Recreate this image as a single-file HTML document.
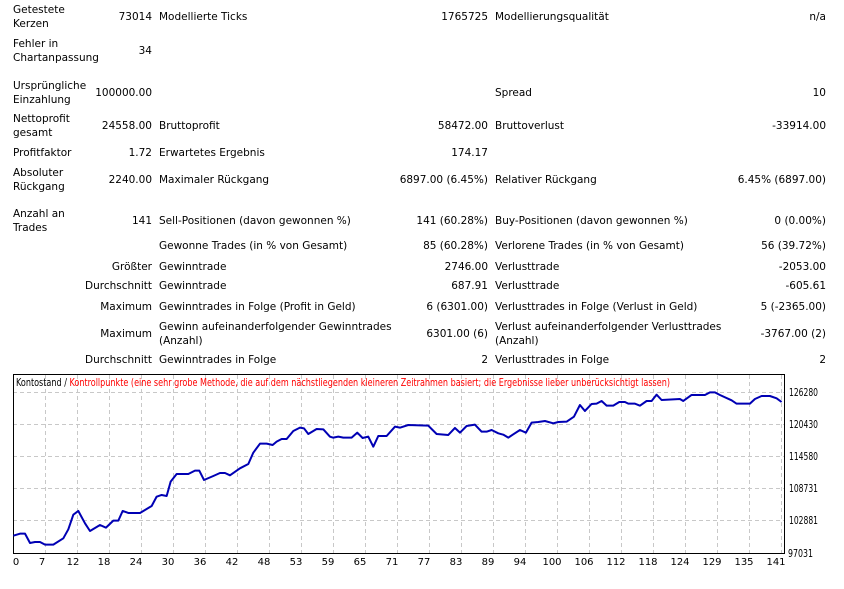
<!DOCTYPE html>
<html><head><meta charset="utf-8"><style>
body{margin:0;width:844px;height:589px;background:#fff;position:relative;overflow:hidden;font-family:"DejaVu Sans","Liberation Sans",sans-serif;font-size:10.5px;color:#000}
.t{position:absolute;line-height:14px;white-space:nowrap}
.l1{left:13px}.r1{right:692px;text-align:right}.l2{left:159px}.r2{right:356px;text-align:right}.l3{left:495px}.r3{right:18px;text-align:right}
</style></head><body>
<div class="t l1" style="top:3px">Getestete<br>Kerzen</div><div class="t r1" style="top:10px">73014</div>
<div class="t l2" style="top:10px">Modellierte Ticks</div><div class="t r2" style="top:10px">1765725</div>
<div class="t l3" style="top:10px">Modellierungsqualität</div><div class="t r3" style="top:10px">n/a</div>
<div class="t l1" style="top:37px">Fehler in<br>Chartanpassung</div><div class="t r1" style="top:44px">34</div>
<div class="t l1" style="top:79px">Ursprüngliche<br>Einzahlung</div><div class="t r1" style="top:86px">100000.00</div>
<div class="t l3" style="top:86px">Spread</div><div class="t r3" style="top:86px">10</div>
<div class="t l1" style="top:112px">Nettoprofit<br>gesamt</div><div class="t r1" style="top:119px">24558.00</div>
<div class="t l2" style="top:119px">Bruttoprofit</div><div class="t r2" style="top:119px">58472.00</div>
<div class="t l3" style="top:119px">Bruttoverlust</div><div class="t r3" style="top:119px">-33914.00</div>
<div class="t l1" style="top:146px">Profitfaktor</div><div class="t r1" style="top:146px">1.72</div>
<div class="t l2" style="top:146px">Erwartetes Ergebnis</div><div class="t r2" style="top:146px">174.17</div>
<div class="t l1" style="top:166px">Absoluter<br>Rückgang</div><div class="t r1" style="top:173px">2240.00</div>
<div class="t l2" style="top:173px">Maximaler Rückgang</div><div class="t r2" style="top:173px">6897.00 (6.45%)</div>
<div class="t l3" style="top:173px">Relativer Rückgang</div><div class="t r3" style="top:173px">6.45% (6897.00)</div>
<div class="t l1" style="top:207px">Anzahl an<br>Trades</div><div class="t r1" style="top:214px">141</div>
<div class="t l2" style="top:214px">Sell-Positionen (davon gewonnen %)</div><div class="t r2" style="top:214px">141 (60.28%)</div>
<div class="t l3" style="top:214px">Buy-Positionen (davon gewonnen %)</div><div class="t r3" style="top:214px">0 (0.00%)</div>
<div class="t l2" style="top:239px">Gewonne Trades (in % von Gesamt)</div><div class="t r2" style="top:239px">85 (60.28%)</div>
<div class="t l3" style="top:239px">Verlorene Trades (in % von Gesamt)</div><div class="t r3" style="top:239px">56 (39.72%)</div>
<div class="t r1" style="top:260px">Größter</div>
<div class="t l2" style="top:260px">Gewinntrade</div><div class="t r2" style="top:260px">2746.00</div>
<div class="t l3" style="top:260px">Verlusttrade</div><div class="t r3" style="top:260px">-2053.00</div>
<div class="t r1" style="top:279px">Durchschnitt</div>
<div class="t l2" style="top:279px">Gewinntrade</div><div class="t r2" style="top:279px">687.91</div>
<div class="t l3" style="top:279px">Verlusttrade</div><div class="t r3" style="top:279px">-605.61</div>
<div class="t r1" style="top:300px">Maximum</div>
<div class="t l2" style="top:300px">Gewinntrades in Folge (Profit in Geld)</div><div class="t r2" style="top:300px">6 (6301.00)</div>
<div class="t l3" style="top:300px">Verlusttrades in Folge (Verlust in Geld)</div><div class="t r3" style="top:300px">5 (-2365.00)</div>
<div class="t r1" style="top:327px">Maximum</div>
<div class="t l2" style="top:320px">Gewinn aufeinanderfolgender Gewinntrades<br>(Anzahl)</div><div class="t r2" style="top:327px">6301.00 (6)</div>
<div class="t l3" style="top:320px">Verlust aufeinanderfolgender Verlusttrades<br>(Anzahl)</div><div class="t r3" style="top:327px">-3767.00 (2)</div>
<div class="t r1" style="top:353px">Durchschnitt</div>
<div class="t l2" style="top:353px">Gewinntrades in Folge</div><div class="t r2" style="top:353px">2</div>
<div class="t l3" style="top:353px">Verlusttrades in Folge</div><div class="t r3" style="top:353px">2</div>

<svg style="position:absolute;left:0;top:0" width="844" height="589" viewBox="0 0 844 589">
<g stroke="#c8c8c8" stroke-dasharray="4,3" stroke-width="1">
<line x1="13" x2="784" y1="392.5" y2="392.5"/><line x1="13" x2="784" y1="424.5" y2="424.5"/><line x1="13" x2="784" y1="456.5" y2="456.5"/><line x1="13" x2="784" y1="488.5" y2="488.5"/><line x1="13" x2="784" y1="520.5" y2="520.5"/>
<line x1="45.5" x2="45.5" y1="375" y2="553"/><line x1="77.5" x2="77.5" y1="375" y2="553"/><line x1="109.5" x2="109.5" y1="375" y2="553"/><line x1="141.5" x2="141.5" y1="375" y2="553"/><line x1="173.5" x2="173.5" y1="375" y2="553"/><line x1="205.5" x2="205.5" y1="375" y2="553"/><line x1="237.5" x2="237.5" y1="375" y2="553"/><line x1="269.5" x2="269.5" y1="375" y2="553"/><line x1="301.5" x2="301.5" y1="375" y2="553"/><line x1="333.5" x2="333.5" y1="375" y2="553"/><line x1="365.5" x2="365.5" y1="375" y2="553"/><line x1="397.5" x2="397.5" y1="375" y2="553"/><line x1="429.5" x2="429.5" y1="375" y2="553"/><line x1="461.5" x2="461.5" y1="375" y2="553"/><line x1="493.5" x2="493.5" y1="375" y2="553"/><line x1="525.5" x2="525.5" y1="375" y2="553"/><line x1="557.5" x2="557.5" y1="375" y2="553"/><line x1="589.5" x2="589.5" y1="375" y2="553"/><line x1="621.5" x2="621.5" y1="375" y2="553"/><line x1="653.5" x2="653.5" y1="375" y2="553"/><line x1="685.5" x2="685.5" y1="375" y2="553"/><line x1="717.5" x2="717.5" y1="375" y2="553"/><line x1="749.5" x2="749.5" y1="375" y2="553"/><line x1="781.5" x2="781.5" y1="375" y2="553"/>
</g>
<rect x="13.5" y="374.5" width="771" height="179" fill="none" stroke="#000"/>
<g transform="translate(0,370) scale(0.3333)" fill="none" stroke="#0000b4" stroke-width="6" stroke-linejoin="round">
<polyline points="40,497 60,491 75,491 90,519 105,516 120,516 135,524 160,524 190,505 205,478 220,434 235,423 255,460 270,483 300,465 318,473 340,452 355,452 368,423 385,429 420,429 455,408 470,380 485,375 500,378 512,335 530,312 565,312 585,302 598,302 612,330 640,318 660,309 675,309 690,316 720,295 745,282 760,248 780,221 800,221 818,225 830,215 845,207 860,207 880,183 900,173 912,175 925,192 950,177 970,178 990,200 1000,203 1015,200 1030,203 1055,203 1072,188 1088,204 1105,200 1120,230 1135,198 1160,198 1185,170 1200,173 1225,165 1260,166 1285,167 1310,192 1345,195 1365,174 1380,188 1400,168 1425,164 1445,185 1460,185 1475,180 1495,190 1510,194 1525,203 1540,193 1560,180 1578,188 1595,158 1615,156 1635,153 1660,160 1675,156 1700,155 1722,140 1740,105 1755,123 1775,102 1790,101 1805,93 1820,107 1840,107 1858,96 1875,96 1885,101 1905,101 1920,107 1940,93 1955,93 1970,74 1985,90 2040,87 2050,93 2075,75 2115,75 2130,67 2145,67 2160,75 2195,91 2210,101 2250,101 2265,87 2285,78 2310,78 2330,85 2345,96"/>
</g>
<g font-family="DejaVu Sans, Liberation Sans, sans-serif" font-size="10.5">
<text x="16" y="386" textLength="654" lengthAdjust="spacingAndGlyphs">Kontostand / <tspan fill="#f00">Kontrollpunkte (eine sehr grobe Methode, die auf dem nächstliegenden kleineren Zeitrahmen basiert; die Ergebnisse lieber unberücksichtigt lassen)</tspan></text>
<g text-anchor="start">
<text x="789" y="396" textLength="29" lengthAdjust="spacingAndGlyphs">126280</text><text x="789" y="428" textLength="29" lengthAdjust="spacingAndGlyphs">120430</text><text x="789" y="460" textLength="29" lengthAdjust="spacingAndGlyphs">114580</text><text x="789" y="492" textLength="29" lengthAdjust="spacingAndGlyphs">108731</text><text x="789" y="524" textLength="29" lengthAdjust="spacingAndGlyphs">102881</text><text x="788" y="557" textLength="25" lengthAdjust="spacingAndGlyphs">97031</text>
</g>
<g text-anchor="middle" font-size="10">
<text x="16" y="565">0</text><text x="42" y="565">7</text><text x="73" y="565">12</text><text x="104" y="565">18</text><text x="136" y="565">24</text><text x="168" y="565">30</text><text x="200" y="565">36</text><text x="232" y="565">42</text><text x="264" y="565">48</text><text x="296" y="565">53</text><text x="328" y="565">59</text><text x="360" y="565">65</text><text x="392" y="565">71</text><text x="424" y="565">77</text><text x="456" y="565">83</text><text x="488" y="565">89</text><text x="520" y="565">94</text><text x="552" y="565">100</text><text x="584" y="565">106</text><text x="616" y="565">112</text><text x="648" y="565">118</text><text x="680" y="565">124</text><text x="712" y="565">129</text><text x="744" y="565">135</text><text x="776" y="565">141</text>
</g></g>
</svg>
</body></html>
